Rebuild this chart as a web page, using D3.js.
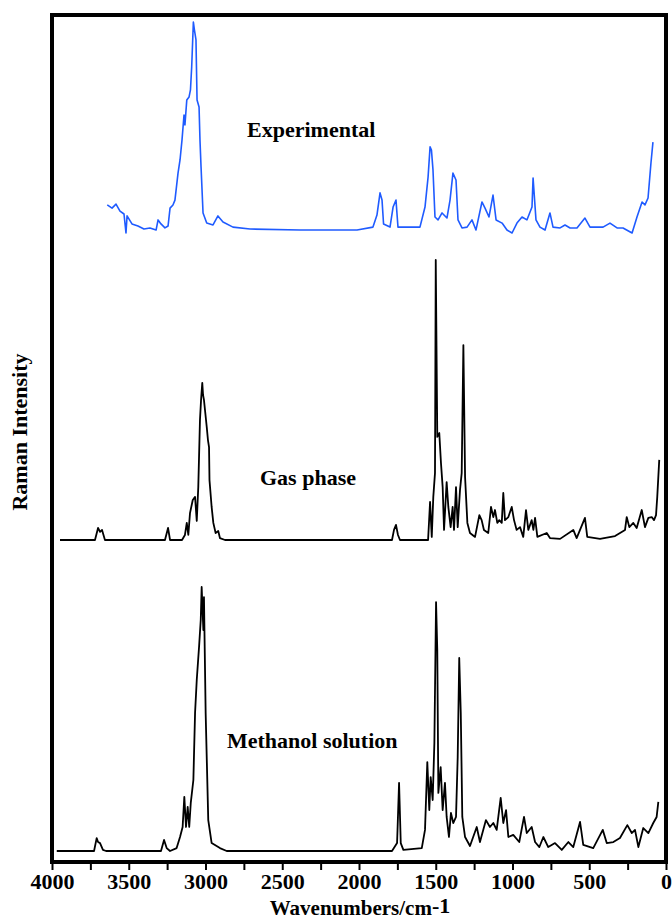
<!DOCTYPE html>
<html lang="en">
<head>
<meta charset="UTF-8">
<script src="https://d3js.org/d3.v7.min.js"></script>
<style>
  body { margin: 0; background: #fff; }
  text { font-family: "Liberation Serif", "Times New Roman", serif; font-weight: bold; fill: #000; }
  .trace { fill: none; stroke-linejoin: round; }
</style>
</head>
<body>
<script>
// Raman spectra: [wavenumber cm-1, relative intensity 0-100]
var expData = [
  [3640,13.3],[3609,11.8],[3583,13.7],[3557,10.4],[3531,9.0],[3518,0],[3511,8.1],[3479,4.3],
  [3440,3.3],[3401,1.9],[3362,2.4],[3322,1.4],[3309,6.2],[3290,4.3],[3264,2.4],[3244,3.3],
  [3231,11.8],[3212,13.3],[3199,15.6],[3179,28.4],[3166,34.6],[3153,44.1],[3140,55.9],[3134,51.2],
  [3122,63],[3107,64.5],[3098,67.8],[3090,78.7],[3079,100],[3072,96.2],[3062,91.5],[3055,63],
  [3042,59.7],[3036,44.1],[3029,31.3],[3016,9.5],[2992,4.7],[2951,3.8],[2919,8.1],[2886,5.2],
  [2821,2.8],[2710,1.9],[2384,1.4],[2013,1.4],[1909,2.8],[1883,8.5],[1863,19],[1850,15.6],
  [1840,4.3],[1798,2.8],[1778,12.3],[1759,15.6],[1746,2.8],[1603,2.8],[1570,12.3],[1550,26.5],
  [1537,40.8],[1528,39.3],[1518,29.9],[1505,7.6],[1485,6.2],[1459,9.5],[1427,7.1],[1407,15.6],
  [1388,28.4],[1368,25.1],[1355,6.2],[1329,2.4],[1296,2.8],[1264,6.2],[1238,1.4],[1199,14.7],
  [1179,11.8],[1153,7.6],[1127,18],[1107,6.2],[1068,4.7],[1036,1.4],[1003,0],[971,4.7],
  [938,7.6],[906,6.2],[873,12.3],[866,26.1],[847,6.2],[821,2.8],[788,1.4],[756,9.5],
  [736,2.8],[690,2.4],[658,3.8],[625,2.4],[580,2.4],[528,7.1],[495,2.8],[410,2.8],
  [365,4.7],[319,2.4],[280,2.4],[221,0],[189,7.6],[156,14.7],[137,13.3],[117,16.6],
  [98,33.2],[85,43.1]
];

var gasData = [
  [3948,0],[3720,0],[3700,4.3],[3687,2.9],[3674,3.6],[3655,0],[3264,0],[3244,4.3],[3231,0],
  [3153,0],[3134,1.8],[3122,6.1],[3112,1.8],[3101,9.6],[3083,14.3],[3068,15.4],[3057,6.8],
  [3047,18.9],[3036,42.9],[3029,50],[3021,56.1],[3016,51.8],[3010,50],[2992,40.4],[2984,35.7],
  [2977,33.2],[2974,21.4],[2960,11.8],[2949,6.1],[2934,2.5],[2917,3.2],[2906,0.7],[2873,0],
  [1785,0],[1772,3.6],[1759,5.4],[1746,1.8],[1733,0],[1550,0],[1537,13.6],[1526,1.1],
  [1516,15.4],[1505,23.9],[1500,100],[1490,36.8],[1477,38.2],[1466,27.5],[1455,18.9],[1446,3.6],
  [1429,20.7],[1418,11.8],[1403,4.6],[1390,11.8],[1381,3.6],[1368,18.9],[1357,4.6],[1342,17.9],
  [1331,23.9],[1320,69.6],[1309,22.5],[1294,6.1],[1277,2.5],[1244,1.1],[1216,8.9],[1201,7.1],
  [1186,3.6],[1158,2.5],[1140,11.8],[1125,8.2],[1114,10.7],[1099,6.1],[1086,7.1],[1070,6.1],
  [1060,16.8],[1049,7.1],[1027,8.2],[1005,11.8],[990,7.1],[973,3.6],[951,4.6],[930,1.1],
  [912,10.7],[897,3.6],[875,7.1],[864,3.6],[853,7.9],[838,1.1],[777,2.5],[756,0.7],
  [690,0.4],[604,3.6],[582,0.7],[528,7.9],[513,1.1],[430,0.4],[332,1.4],[267,3.6],
  [256,8.2],[239,4.6],[213,6.1],[191,4.3],[158,10.7],[137,4.6],[115,7.9],[93,8.2],
  [78,7.1],[65,8.9],[57,15.4],[44,28.6]
];

var methData = [
  [3969,0],[3726,0],[3709,4.9],[3700,3.4],[3687,3.0],[3668,0.4],[3648,0],[3290,0],[3270,4.2],
  [3253,1.1],[3231,0],[3188,1.1],[3166,5.3],[3149,9.1],[3138,20.5],[3127,9.1],[3116,16.7],
  [3106,9.1],[3096,18.2],[3079,26.9],[3068,52.3],[3057,64.8],[3042,77.3],[3031,87.5],[3025,100],
  [3014,83.7],[3010,96.2],[2999,52.3],[2982,11.7],[2960,3.0],[2906,1.1],[2862,0],[1785,0],
  [1752,3.0],[1749,8],[1739,25.8],[1728,3.0],[1711,0.4],[1591,1.1],[1570,8.0],[1555,33.7],
  [1542,15.5],[1533,28],[1520,19.3],[1509,40.9],[1498,94.3],[1490,76.1],[1483,22],[1468,31.8],
  [1455,15.5],[1440,25.8],[1429,12.9],[1414,5.3],[1401,14.4],[1386,10.6],[1368,12.9],[1357,35.6],
  [1347,73.1],[1337,52.3],[1327,12.9],[1309,5.3],[1277,1.9],[1233,9.1],[1212,3.4],[1173,11.7],
  [1147,9.1],[1125,10.6],[1103,8.0],[1077,20.1],[1060,10.6],[1042,15.5],[1027,5.3],[995,6.1],
  [956,3.4],[925,12.9],[907,6.8],[875,9.1],[853,3.4],[825,1.5],[799,5.3],[767,1.5],
  [723,3.0],[679,0.4],[636,3.4],[604,1.5],[560,11.0],[539,2.3],[474,1.1],[412,8.0],
  [386,3.0],[343,3.4],[300,4.9],[252,9.8],[223,6.8],[202,8.0],[180,1.5],[148,8.7],
  [115,6.8],[83,10.6],[61,12.9],[50,18.6]
];

var majorTicks = [4000, 3500, 3000, 2500, 2000, 1500, 1000, 500, 0];
var minorTicks = [3750, 3250, 2750, 2250, 1750, 1250, 750, 250];

var width = 672, height = 921;
// plot frame (note: "top" is reserved on window, so use other names)
var frameL = 52, frameR = 666, frameT = 15, frameB = 862;

var svg = d3.select("body").append("svg")
    .attr("width", width)
    .attr("height", height);

var x = d3.scaleLinear().domain([4000, 0]).range([frameL, frameR]);

// each trace gets its own vertical band (stacked spectra)
var yExp = d3.scaleLinear().domain([0, 100]).range([233, 22]);
var yGas = d3.scaleLinear().domain([0, 100]).range([540, 260]);
var yMeth = d3.scaleLinear().domain([0, 100]).range([851, 587]);

function lineFor(y) {
    return d3.line()
        .x(function (d) { return x(d[0]); })
        .y(function (d) { return y(d[1]); });
}

svg.append("path").datum(expData).attr("class", "trace")
    .attr("d", lineFor(yExp))
    .style("stroke", "#1f5bff").style("stroke-width", 1.6);

svg.append("path").datum(gasData).attr("class", "trace")
    .attr("d", lineFor(yGas))
    .style("stroke", "#000").style("stroke-width", 1.8);

svg.append("path").datum(methData).attr("class", "trace")
    .attr("d", lineFor(yMeth))
    .style("stroke", "#000").style("stroke-width", 1.8);

// frame
svg.append("rect")
    .attr("x", frameL).attr("y", frameT)
    .attr("width", frameR - frameL).attr("height", frameB - frameT)
    .style("fill", "none").style("stroke", "#000").style("stroke-width", 4);

// bottom axis
var axis = d3.axisBottom(x)
    .tickValues(majorTicks.concat(minorTicks))
    .tickSize(8)
    .tickSizeOuter(0)
    .tickFormat(function (d) { return majorTicks.indexOf(d) >= 0 ? d : ""; });

var gx = svg.append("g")
    .attr("transform", "translate(0," + frameB + ")")
    .call(axis);
gx.select(".domain").remove();
gx.selectAll(".tick line").style("stroke", "#000").style("stroke-width", 2);
gx.selectAll(".tick text")
    .attr("y", 11)
    .style("font-size", "22px")
    .style("font-family", "'Liberation Serif', 'Times New Roman', serif")
    .style("font-weight", "bold");

// axis titles
var xt = svg.append("text")
    .attr("x", 360).attr("y", 915)
    .attr("text-anchor", "middle")
    .style("font-size", "21px");
xt.append("tspan").text("Wavenumbers/cm");
xt.append("tspan").attr("dy", -2).style("font-size", "22px").text("-1");

svg.append("text")
    .attr("transform", "translate(27,432) rotate(-90)")
    .attr("text-anchor", "middle")
    .style("font-size", "22px")
    .text("Raman Intensity");

// spectrum labels
svg.append("text").attr("x", 247).attr("y", 137).style("font-size", "22px").text("Experimental");
svg.append("text").attr("x", 260).attr("y", 485).style("font-size", "22px").text("Gas phase");
svg.append("text").attr("x", 227).attr("y", 748).style("font-size", "22px").text("Methanol solution");
</script>
</body>
</html>
